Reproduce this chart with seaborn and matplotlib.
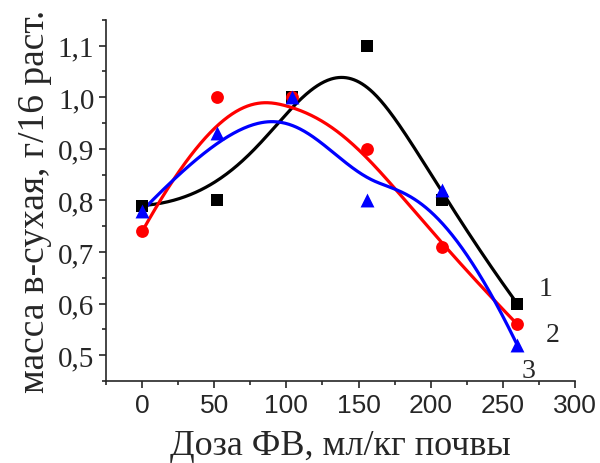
import numpy as np
import pandas as pd
import matplotlib.pyplot as plt
import seaborn as sns

# данные (доза ФВ, мл/кг почвы)
doses = [0, 52, 104, 156, 208, 260]
mass_1 = [0.79, 0.80, 1.00, 1.10, 0.80, 0.60]
mass_2 = [0.74, 1.00, 1.00, 0.90, 0.71, 0.56]
mass_3 = [0.78, 0.93, 1.00, 0.80, 0.82, 0.52]
series_names = ["1", "2", "3"]
colors = ["black", "red", "blue"]
markers = ["s", "o", "^"]

sns.set_style("ticks")
plt.rcParams["font.family"] = ["Liberation Serif", "DejaVu Serif"]


def bspline(xs, ys, n=300):
    # clamped cubic B-spline, точки данных как контрольные
    P = np.column_stack([xs, ys])
    k = 3
    m = len(P)
    inner = np.linspace(0, 1, m - k + 1)
    knots = np.concatenate([[0] * k, inner, [1] * k])
    t = np.linspace(0, 1, n)
    t[-1] = 1 - 1e-9

    def basis(i, p, t):
        if p == 0:
            return ((knots[i] <= t) & (t < knots[i + 1])).astype(float)
        a = 0.0
        b = 0.0
        d1 = knots[i + p] - knots[i]
        d2 = knots[i + p + 1] - knots[i + 1]
        if d1 > 0:
            a = (t - knots[i]) / d1 * basis(i, p - 1, t)
        if d2 > 0:
            b = (knots[i + p + 1] - t) / d2 * basis(i + 1, p - 1, t)
        return a + b

    N = np.array([basis(i, k, t) for i in range(m)])
    curve = N.T @ P
    return curve[:, 0], curve[:, 1]


fig = plt.figure(figsize=(6, 4.64), dpi=100)
ax = fig.add_axes([0.177, 0.177, 0.781, 0.778])

for name, ys, c, mk in zip(series_names, [mass_1, mass_2, mass_3], colors, markers):
    cx, cy = bspline(doses, ys)
    curve = pd.DataFrame({"x": cx, "y": cy})
    sns.lineplot(data=curve, x="x", y="y", sort=False, color=c, linewidth=2.3, ax=ax)
    pts = pd.DataFrame({"x": doses, "y": ys})
    ms = {"s": 80, "o": 85, "^": 100}[mk]
    sns.scatterplot(data=pts, x="x", y="y", color=c, marker=mk, s=ms,
                    edgecolor=c, linewidth=0, ax=ax, zorder=3)

ax.set_xlim(-25, 300)
ax.set_ylim(0.45, 1.15)
ax.set_xticks([0, 50, 100, 150, 200, 250, 300])
ax.set_xticks(np.arange(-25, 301, 25), minor=True)
ax.set_yticks([0.5, 0.6, 0.7, 0.8, 0.9, 1.0, 1.1])
ax.set_yticks(np.arange(0.45, 1.151, 0.05), minor=True)
ax.set_yticklabels(["0,5", "0,6", "0,7", "0,8", "0,9", "1,0", "1,1"], fontsize=21)
ax.set_xticklabels(["0", "50", "100", "150", "200", "250", "300"], fontsize=19,
                   family=["Liberation Sans", "DejaVu Sans"])
ax.tick_params(which="major", length=5, width=1.2)
ax.tick_params(which="minor", length=3, width=1.2)
for s in ["left", "bottom"]:
    ax.spines[s].set_linewidth(1.2)
sns.despine(ax=ax)

ax.set_xlabel("Доза ФВ, мл/кг почвы", fontsize=26, labelpad=9)
ax.set_ylabel("масса в-сухая, г/16 раст.", fontsize=27, labelpad=4)

ax.text(280, 0.63, "1", fontsize=20, ha="center", va="center")
ax.text(285, 0.54, "2", fontsize=20, ha="center", va="center")
ax.text(268, 0.47, "3", fontsize=20, ha="center", va="center")

fig.savefig("out.png", dpi=100)
